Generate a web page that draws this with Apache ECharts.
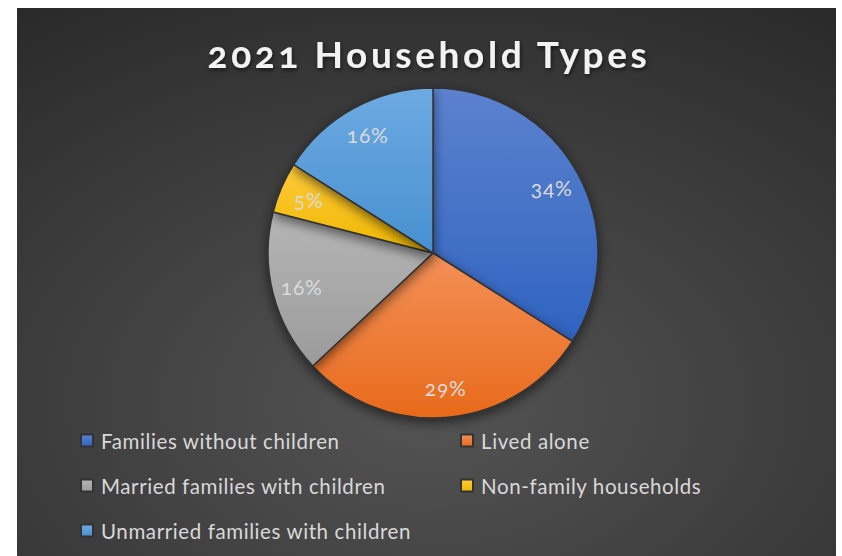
<!DOCTYPE html>
<html>
<head>
<meta charset="utf-8">
<style>
  html, body { margin: 0; padding: 0; background: #ffffff; }
  #chart { width: 842px; height: 556px; }
  /* tracking and old-style figures for the title, legend and slice labels */
  #chart text[style*="37px"] { letter-spacing: 3.6px; font-variant-numeric: oldstyle-nums; }
  #chart text[style*="20.5px"] { letter-spacing: 0.6px; }
  #chart text[style*="21px"] { letter-spacing: 0.8px; font-variant-numeric: oldstyle-nums; }
</style>
<script src="https://cdn.jsdelivr.net/npm/echarts@6/dist/echarts.min.js"></script>
</head>
<body>
<div id="chart"></div>
<script>
// Household type shares for 2021 (percent)
const categories = [
  'Families without children',
  'Lived alone',
  'Married families with children',
  'Non-family households',
  'Unmarried families with children'
];
const shares = [34, 29, 16, 5, 16];

// Slice fills: lighter at the top, deeper at the bottom
const sliceTop = ['#5c82ce', '#f39058', '#b6b6b6', '#ffcb3c', '#6eaae2'];
const sliceBottom = ['#2f63c0', '#e86a1b', '#9b9b9b', '#efb700', '#4790d0'];

function vGrad(top, bottom) {
  return new echarts.graphic.LinearGradient(0, 0, 0, 1, [
    { offset: 0, color: top },
    { offset: 1, color: bottom }
  ]);
}

const pieData = categories.map((name, i) => ({
  name: name,
  value: shares[i],
  itemStyle: { color: vGrad(sliceTop[i], sliceBottom[i]) }
}));

const labelData = categories.map((name, i) => ({ name: name, value: shares[i] }));

const chart = echarts.init(document.getElementById('chart'), null, { renderer: 'svg' });

const textColor = '#d9d9d9';
const legendText = {
  color: textColor, fontSize: 20.5, fontFamily: 'Lato', lineHeight: 20,
  padding: [0, 0, 0, 3]
};
const legendBase = {
  orient: 'vertical',
  top: 430,
  padding: 0,
  icon: 'rect',
  itemWidth: 12,
  itemHeight: 12,
  itemGap: 24,
  textStyle: legendText
};

chart.setOption({
  backgroundColor: '#ffffff',
  graphic: [{
    type: 'rect',
    z: -10,
    silent: true,
    shape: { x: 17, y: 8, width: 819, height: 548 },
    style: {
      fill: {
        type: 'radial', x: 0.5, y: 0.72, r: 0.95,
        colorStops: [
          { offset: 0, color: '#545454' },
          { offset: 1, color: '#262626' }
        ]
      }
    }
  }],
  title: {
    text: '2021 Household Types',
    left: 424,
    textAlign: 'center',
    top: 30,
    textStyle: {
      color: '#f2f2f2',
      fontFamily: 'Lato',
      fontWeight: 'bold',
      fontSize: 37,
      textShadowColor: 'rgba(0,0,0,0.6)',
      textShadowBlur: 4,
      textShadowOffsetX: 1,
      textShadowOffsetY: 2
    }
  },
  legend: [
    Object.assign({}, legendBase, { left: 80, data: [categories[0], categories[2], categories[4]] }),
    Object.assign({}, legendBase, { left: 460, data: [categories[1], categories[3]] })
  ],
  series: [{
    type: 'pie',
    name: 'Household types',
    center: [433, 253],
    radius: 165,
    startAngle: 90,
    clockwise: true,
    animation: false,
    label: { show: false },
    labelLine: { show: false },
    itemStyle: {
      borderColor: '#333333',
      borderWidth: 1.5,
      shadowColor: 'rgba(0,0,0,0.55)',
      shadowBlur: 12,
      shadowOffsetY: 4
    },
    emphasis: { disabled: true },
    data: pieData
  }, {
    // transparent ring that carries the percentage labels out toward the rim
    type: 'pie',
    name: 'Labels',
    center: [433, 253],
    radius: [100, 165],
    startAngle: 90,
    clockwise: true,
    animation: false,
    silent: true,
    z: 3,
    itemStyle: { color: 'rgba(0,0,0,0)' },
    emphasis: { disabled: true },
    label: {
      show: true,
      position: 'inside',
      formatter: '{d}%',
      color: textColor,
      fontFamily: 'Lato',
      fontSize: 21
    },
    labelLine: { show: false },
    data: labelData
  }]
});
</script>
</body>
</html>
